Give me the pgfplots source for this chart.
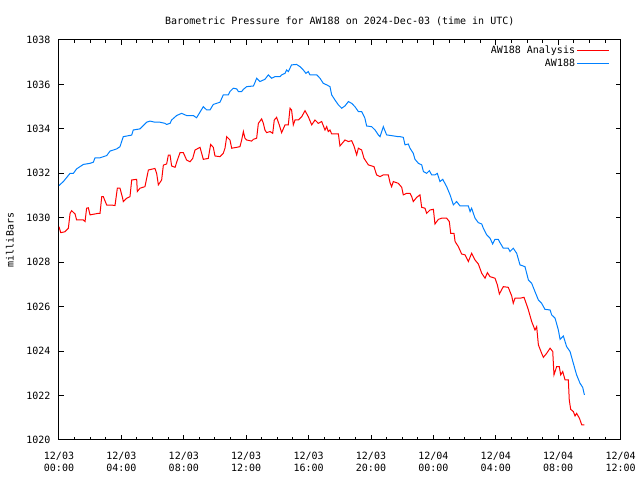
\documentclass[border=0pt]{standalone}
\usepackage{pgfplots}
\pgfplotsset{compat=1.18}
\usepackage{fontspec}
\setmainfont{DejaVu Sans Mono}
\definecolor{gblue}{RGB}{0,128,255}
\begin{document}
\begin{tikzpicture}
\begin{axis}[
  scale only axis,
  width=421.2pt, height=300pt,
  xmin=0, xmax=36, ymin=1020, ymax=1038,
  xtick={0,4,...,36},
  minor xtick={0,1,...,36},
  xticklabels={{12/03\\00:00},{12/03\\04:00},{12/03\\08:00},{12/03\\12:00},{12/03\\16:00},{12/03\\20:00},{12/04\\00:00},{12/04\\04:00},{12/04\\08:00},{12/04\\12:00}},
  ytick={1020,1022,...,1038},
  yticklabels={1020,1022,1024,1026,1028,1030,1032,1034,1036,1038},
  tick align=inside, tick pos=both,
  major tick length=3.75pt, minor tick length=2.2pt,
  every tick/.style={black, line width=0.75pt},
  axis line style={black, line width=0.75pt},
  xticklabel style={align=center, font=\fontsize{7.5}{9}\selectfont, yshift=-5.5pt},
  yticklabel style={font=\fontsize{7.5}{9}\selectfont, xshift=-2.9pt},
  title={Barometric Pressure for AW188 on 2024-Dec-03 (time in UTC)},
  title style={at={(axis description cs:0.5,1.0425)}, anchor=base, yshift=-7.5pt, font=\fontsize{7.5}{9}\selectfont},
  ylabel={milliBars},
  ylabel style={at={(axis description cs:-0.0873,0.5)}, anchor=center, font=\fontsize{7.5}{9}\selectfont},
  legend plot pos=right,
  legend cell align=right,
  legend style={at={(axis description cs:0.981,0.99)}, anchor=north east, draw=none, fill=none, font=\fontsize{7.5}{9}\selectfont, inner sep=0pt, row sep=0pt, nodes={inner sep=1.2pt}},
  legend image code/.code={\draw[#1] (0pt,0pt) -- (24pt,0pt);},
]
\addplot[red, line width=0.75pt] coordinates {
(0.0,1029.6)(0.11,1029.33)(0.38,1029.37)(0.6,1029.53)(0.71,1030.2)(0.81,1030.32)(1.03,1030.17)(1.13,1029.9)(1.56,1029.9)(1.67,1029.83)(1.77,1030.43)(1.88,1030.45)(1.99,1030.13)(2.52,1030.2)(2.63,1030.2)(2.74,1030.95)(2.84,1030.95)(3.06,1030.57)(3.38,1030.57)(3.59,1030.55)(3.74,1031.33)(3.91,1031.33)(4.08,1030.88)(4.12,1030.73)(4.34,1030.88)(4.55,1030.95)(4.66,1031.7)(4.98,1031.73)(5.02,1031.18)(5.19,1031.33)(5.51,1031.4)(5.73,1032.15)(6.15,1032.22)(6.26,1032.0)(6.37,1031.48)(6.58,1031.7)(6.69,1032.37)(6.9,1032.42)(7.01,1032.82)(7.12,1032.82)(7.22,1032.33)(7.44,1032.27)(7.59,1032.6)(7.76,1032.93)(7.97,1032.93)(8.18,1032.6)(8.4,1032.52)(8.57,1032.67)(8.72,1033.05)(9.04,1033.17)(9.25,1032.63)(9.57,1032.67)(9.72,1033.3)(9.89,1033.17)(10.0,1032.78)(10.32,1032.75)(10.53,1032.9)(10.64,1033.13)(10.75,1033.65)(10.96,1033.5)(11.07,1033.13)(11.39,1033.17)(11.6,1033.2)(11.71,1033.5)(11.82,1033.88)(11.92,1033.58)(12.03,1033.5)(12.35,1033.45)(12.46,1033.53)(12.67,1033.58)(12.78,1034.25)(12.99,1034.45)(13.1,1034.25)(13.2,1033.95)(13.31,1033.83)(13.53,1033.88)(13.7,1033.8)(13.8,1034.4)(13.95,1034.52)(14.12,1034.18)(14.27,1033.83)(14.49,1034.18)(14.7,1034.18)(14.81,1034.93)(14.91,1034.85)(15.02,1034.18)(15.13,1034.4)(15.34,1034.4)(15.56,1034.55)(15.77,1034.82)(15.98,1034.55)(16.2,1034.18)(16.41,1034.4)(16.62,1034.25)(16.84,1034.33)(17.05,1033.95)(17.16,1034.1)(17.26,1033.88)(17.37,1033.95)(17.48,1033.77)(17.91,1033.77)(18.01,1033.23)(18.33,1033.5)(18.55,1033.43)(18.76,1033.47)(18.91,1033.23)(19.08,1032.83)(19.19,1033.13)(19.4,1033.05)(19.55,1032.68)(19.83,1032.38)(20.19,1032.3)(20.36,1031.93)(20.58,1031.85)(20.79,1031.93)(21.11,1031.93)(21.22,1031.58)(21.32,1031.4)(21.43,1031.63)(21.75,1031.55)(21.97,1031.37)(22.07,1031.03)(22.29,1031.1)(22.5,1031.1)(22.61,1030.95)(22.71,1030.73)(22.93,1030.92)(23.14,1031.03)(23.25,1030.47)(23.46,1030.43)(23.57,1030.2)(23.78,1030.35)(24.0,1030.38)(24.1,1029.72)(24.32,1029.93)(24.53,1029.98)(24.85,1029.98)(25.02,1029.83)(25.11,1029.3)(25.32,1029.3)(25.39,1028.93)(25.6,1028.7)(25.81,1028.37)(26.03,1028.33)(26.24,1028.03)(26.45,1028.4)(26.67,1028.1)(26.88,1027.92)(27.1,1027.5)(27.31,1027.28)(27.46,1027.53)(27.63,1027.35)(27.95,1027.28)(28.1,1026.98)(28.23,1026.57)(28.48,1026.9)(28.8,1026.87)(29.02,1026.48)(29.12,1026.15)(29.23,1026.38)(29.55,1026.38)(29.81,1026.42)(29.98,1026.08)(30.09,1025.85)(30.3,1025.33)(30.51,1024.95)(30.62,1025.1)(30.73,1024.28)(30.94,1023.9)(31.05,1023.72)(31.26,1023.9)(31.48,1024.13)(31.65,1023.98)(31.73,1022.93)(31.9,1023.3)(32.07,1023.3)(32.16,1022.93)(32.29,1023.08)(32.44,1022.7)(32.65,1022.7)(32.71,1021.8)(32.8,1021.38)(32.97,1021.28)(33.08,1021.08)(33.18,1021.2)(33.36,1020.98)(33.51,1020.68)(33.68,1020.68)
};
\addlegendentry{AW188 Analysis}
\addplot[gblue, line width=0.75pt] coordinates {
(0.0,1031.45)(0.28,1031.63)(0.71,1032.0)(0.92,1032.0)(1.13,1032.2)(1.56,1032.4)(1.99,1032.45)(2.2,1032.5)(2.31,1032.7)(2.63,1032.7)(3.06,1032.8)(3.27,1033.0)(3.7,1033.1)(3.91,1033.2)(4.12,1033.65)(4.66,1033.72)(4.76,1033.95)(5.19,1034.0)(5.62,1034.3)(5.83,1034.35)(6.15,1034.3)(6.47,1034.3)(6.79,1034.25)(6.9,1034.2)(7.12,1034.25)(7.22,1034.4)(7.54,1034.6)(7.86,1034.7)(8.18,1034.6)(8.61,1034.6)(8.82,1034.5)(9.25,1035.0)(9.47,1034.85)(9.68,1034.85)(9.89,1035.1)(10.32,1035.2)(10.53,1035.53)(10.85,1035.53)(10.96,1035.68)(11.17,1035.83)(11.39,1035.8)(11.5,1035.68)(11.71,1035.68)(11.82,1035.78)(12.03,1035.9)(12.46,1035.93)(12.56,1036.08)(12.67,1036.28)(12.88,1036.13)(13.2,1036.23)(13.42,1036.43)(13.63,1036.28)(13.85,1036.35)(14.17,1036.35)(14.27,1036.43)(14.49,1036.5)(14.59,1036.65)(14.7,1036.58)(14.91,1036.88)(15.23,1036.9)(15.45,1036.8)(15.66,1036.65)(15.83,1036.5)(15.98,1036.58)(16.09,1036.43)(16.52,1036.43)(16.73,1036.28)(16.94,1036.05)(17.16,1035.98)(17.37,1035.9)(17.48,1035.53)(17.69,1035.3)(17.91,1035.08)(18.12,1034.93)(18.33,1035.03)(18.55,1035.23)(18.76,1035.15)(18.97,1035.0)(19.19,1034.78)(19.4,1034.78)(19.61,1034.48)(19.72,1034.13)(20.04,1034.1)(20.26,1033.95)(20.47,1033.73)(20.58,1033.65)(20.79,1034.1)(21.0,1033.73)(21.75,1033.65)(21.86,1033.65)(22.07,1033.62)(22.18,1033.28)(22.39,1033.32)(22.5,1033.13)(22.71,1032.9)(22.82,1032.63)(23.04,1032.45)(23.25,1032.38)(23.36,1032.08)(23.57,1032.0)(23.74,1032.12)(23.89,1031.93)(24.1,1031.93)(24.25,1032.0)(24.42,1031.63)(24.6,1031.73)(24.85,1031.4)(25.07,1031.03)(25.28,1030.58)(25.49,1030.73)(25.71,1030.53)(26.24,1030.53)(26.35,1030.28)(26.45,1030.43)(26.67,1029.98)(26.88,1029.78)(27.1,1029.72)(27.2,1029.53)(27.42,1029.23)(27.63,1029.08)(27.8,1028.82)(27.95,1029.03)(28.16,1029.03)(28.27,1028.88)(28.48,1028.63)(28.8,1028.63)(28.91,1028.48)(29.12,1028.63)(29.34,1028.4)(29.55,1027.88)(29.87,1027.8)(30.09,1027.2)(30.3,1027.05)(30.51,1026.68)(30.73,1026.3)(30.94,1026.15)(31.15,1025.88)(31.48,1025.85)(31.58,1025.63)(31.8,1025.48)(32.01,1024.95)(32.12,1024.53)(32.33,1024.68)(32.54,1024.2)(32.76,1023.98)(32.97,1023.45)(33.18,1022.93)(33.4,1022.55)(33.57,1022.37)(33.68,1022.03)
};
\addlegendentry{AW188}
\end{axis}
\path (current axis.south west) ++(-44.25pt,-30pt) coordinate (bl);
\path (current axis.north east) ++(14.55pt,30pt) coordinate (tr);
\pgfresetboundingbox
\path[use as bounding box] (bl) rectangle (tr);
\end{tikzpicture}
\end{document}
